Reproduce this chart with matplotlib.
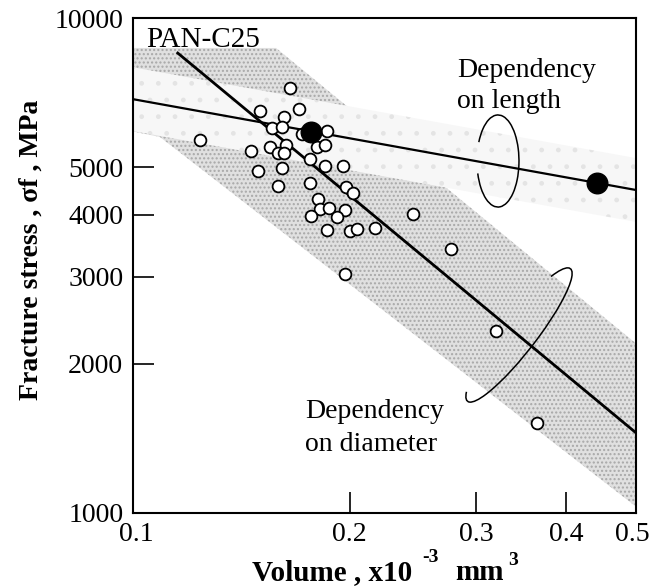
import matplotlib
matplotlib.use('Agg')
import matplotlib.pyplot as plt
import matplotlib.transforms as mtransforms
from matplotlib.patches import Arc
import numpy as np

plt.rcParams['font.family'] = ['Liberation Serif', 'DejaVu Serif']
plt.rcParams['hatch.linewidth'] = 1.0

# open circles: single filament tests (volume x10^-3 mm^3, stress MPa)
vol_open = [0.165, 0.150, 0.170, 0.162, 0.156, 0.161, 0.172, 0.186, 0.124,
            0.155, 0.163, 0.159, 0.162, 0.146, 0.180, 0.185, 0.176, 0.185,
            0.196, 0.149, 0.161, 0.159, 0.176, 0.198, 0.202, 0.181, 0.182,
            0.187, 0.197, 0.177, 0.192, 0.186, 0.200, 0.205, 0.217, 0.245,
            0.197, 0.277, 0.319, 0.364]
stress_open = [7220, 6490, 6550, 6310, 6000, 6020, 5830, 5910, 5670,
               5490, 5540, 5340, 5340, 5390, 5490, 5540, 5190, 5020,
               5020, 4910, 4980, 4580, 4640, 4560, 4430, 4310, 4110,
               4130, 4100, 3980, 3960, 3730, 3710, 3750, 3770, 4020,
               3040, 3410, 2330, 1520]

# filled circles: mean values for length dependency
vol_filled = [0.177, 0.441]
stress_filled = [5885, 4645]

# fitted lines
len_line_x = [0.1, 0.5]
len_line_y = [6855, 4493]
dia_line_x = [0.115, 0.5]
dia_line_y = [8530, 1452]

# scatter bands
dia_band_upper_x = [0.1, 0.158, 0.5]
dia_band_upper_y = [8700, 8700, 2200]
dia_band_lower_x = [0.1, 0.109, 0.5]
dia_band_lower_y = [5900, 5750, 1030]
len_band_factor = 1.16

xticks = [0.1, 0.2, 0.3, 0.4, 0.5]
xticklabels = ['0.1', '0.2', '0.3', '0.4', '0.5']
yticks = [1000, 2000, 3000, 4000, 5000, 10000]
yticklabels = ['1000', '2000', '3000', '4000', '5000', '10000']

fig = plt.figure(figsize=(6.51, 5.88), dpi=100)
ax = fig.add_axes([133 / 651, 75 / 588, 503 / 651, 495 / 588])
ax.set_xscale('log')
ax.set_yscale('log')
ax.set_xlim(0.1, 0.5)
ax.set_ylim(1000, 10000)

# diameter band (dense dots)
bx = dia_band_upper_x + dia_band_lower_x[::-1]
by = dia_band_upper_y + dia_band_lower_y[::-1]
ax.fill(bx, by, facecolor='#e0e0e0', edgecolor='#a8a8a8', hatch='....',
        linewidth=0, zorder=1)

# length band (light dots)
ly = np.array(len_line_y)
lx = len_line_x + len_line_x[::-1]
lyy = list(ly * len_band_factor) + list((ly / len_band_factor)[::-1])
ax.fill(lx, lyy, facecolor='#f7f7f7', edgecolor='#e4e4e4', hatch='.',
        linewidth=0, zorder=1.5)

ax.plot(len_line_x, len_line_y, color='black', lw=1.6, zorder=2,
        solid_capstyle='butt')
ax.plot(dia_line_x, dia_line_y, color='black', lw=2.0, zorder=2,
        solid_capstyle='butt')

ax.scatter(vol_open, stress_open, s=72, facecolor='white', edgecolor='black',
           linewidths=1.3, zorder=4)
ax.scatter(vol_filled, stress_filled, s=220, color='black', zorder=5)

# loops pointing at the lines
ax.add_patch(Arc((0.7256, 0.7111), 0.0835, 0.186, angle=0, theta1=-148,
                 theta2=135, transform=ax.transAxes, lw=1.1, color='black',
                 zorder=6))
ax.add_patch(Arc((0.7674, 0.3596), 0.337, 0.068, angle=52.7, theta1=175,
                 theta2=369, transform=ax.transAxes, lw=1.1, color='black',
                 zorder=6))

ax.text(0.026, 0.941, 'PAN-C25', transform=ax.transAxes, fontsize=21,
        va='baseline', zorder=7)
ax.text(0.644, 0.881, 'Dependency', transform=ax.transAxes, fontsize=20,
        va='baseline')
ax.text(0.644, 0.818, 'on length', transform=ax.transAxes, fontsize=20,
        va='baseline')
ax.text(0.342, 0.192, 'Dependency', transform=ax.transAxes, fontsize=20,
        va='baseline')
ax.text(0.342, 0.125, 'on diameter', transform=ax.transAxes, fontsize=20,
        va='baseline')

ax.set_xticks(xticks)
ax.set_xticklabels(xticklabels)
ax.set_yticks(yticks)
ax.set_yticklabels(yticklabels)
ax.minorticks_off()
ax.tick_params(direction='in', length=15, width=1.2, labelsize=20)
ax.tick_params(axis='x', pad=6.5)
ax.tick_params(axis='y', pad=7)

# nudge the end labels inwards a little, as in the original
labs = ax.get_xticklabels()
for lab, dx in ((labs[0], 3), (labs[-1], -4)):
    off = mtransforms.ScaledTranslation(dx / 100, 0, fig.dpi_scale_trans)
    lab.set_transform(lab.get_transform() + off)

for sp in ax.spines.values():
    sp.set_linewidth(1.5)

# x label written in pieces so the exponents sit like the original
fig.text(252 / 651, 8 / 588, 'Volume , x10', fontsize=21, fontweight='bold',
         va='baseline')
fig.text(422 / 651, 26 / 588, '-3', fontsize=14, fontweight='bold',
         va='baseline')
fig.text(455 / 651, 8 / 588, 'mm', fontsize=21, fontweight='bold',
         va='baseline')
fig.text(508 / 651, 23 / 588, '3', fontsize=14, fontweight='bold',
         va='baseline')

ax.set_ylabel('Fracture stress , σf , MPa', fontsize=20, fontweight='bold')
ax.yaxis.set_label_coords(-0.203, 0.531)
ax.yaxis.label.set_va('center')

fig.savefig('out.png', dpi=100)
